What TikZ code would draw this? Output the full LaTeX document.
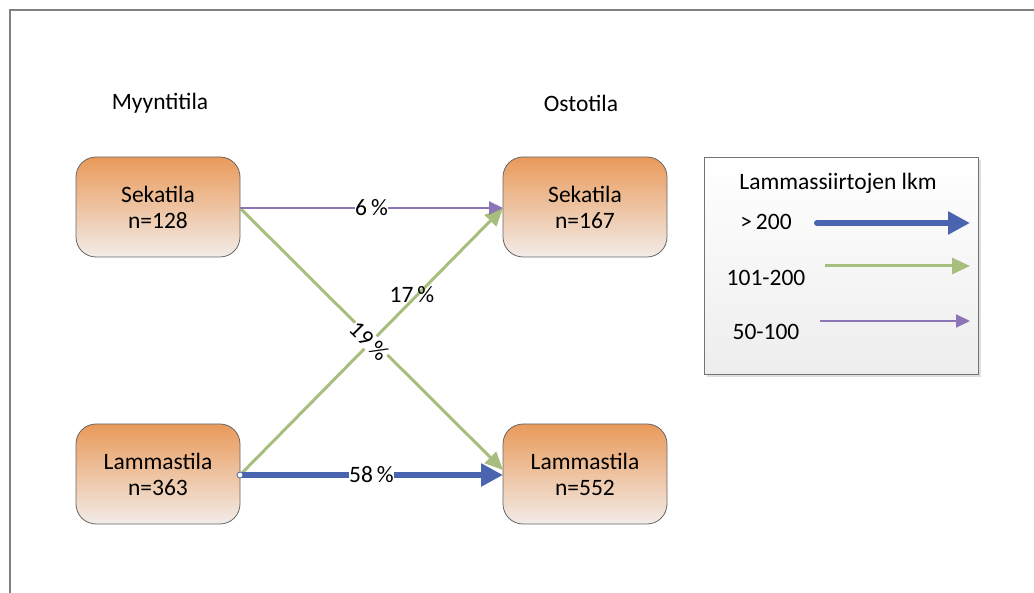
\documentclass[tikz,border=0pt]{standalone}
\usepackage{fontspec}
\setmainfont{Carlito}
\usetikzlibrary{arrows.meta,shadows}
\definecolor{orangetop}{HTML}{E99A5A}
\definecolor{orangebot}{HTML}{F2ECE8}
\definecolor{purp}{HTML}{8C75B4}
\definecolor{grn}{HTML}{A8BE7E}
\definecolor{blu}{HTML}{4A64B0}
\begin{document}
\begin{tikzpicture}[x=1pt,y=-1pt,
  farm/.style={draw=black!60,line width=0.8pt,rounded corners=20pt,minimum width=164pt,minimum height=100pt,
    top color=orangetop,bottom color=orangebot,align=center,font=\fontsize{23.5}{26}\selectfont,inner sep=0pt},
  lbl/.style={font=\fontsize{23.5}{28}\selectfont,inner sep=1pt},
  pct/.style={font=\fontsize{23.5}{28}\selectfont,fill=white,inner sep=0.5pt},
  parr/.style={draw=purp,line width=2pt,-{Triangle[length=14pt,width=13pt]}},
  garr/.style={draw=grn,line width=3pt,-{Triangle[length=18pt,width=16pt]}},
  barr/.style={draw=blu,line width=6pt,-{Triangle[length=22pt,width=22pt]}},
]
\useasboundingbox (0,0) rectangle (1034,593);
\draw[draw=black!50,line width=2pt] (1040,10) -- (10,10) -- (10,600);
\node[lbl] (myy) at (160,103) {Myyntitila};
\node[lbl] (ost) at (581,103) {Ostotila};
\node[farm] (s1) at (158,207) {Sekatila\\n=128};
\node[farm] (s2) at (585,207) {Sekatila\\n=167};
\node[farm] (l1) at (158,474) {Lammastila\\n=363};
\node[farm] (l2) at (585,474) {Lammastila\\n=552};
\coordinate (s1e) at (240,208);
\coordinate (s2w) at (503,208);
\coordinate (l1e) at (240,475);
\coordinate (l2w) at (503,470);
\coordinate (l2wb) at (503,475);
\draw[garr] (s1e) -- (l2w);
\draw[garr] (l1e) -- (s2w);
\draw[barr] (l1e) -- (l2wb) node[pct,pos=0.5] {58\,\%};
\draw[parr] (s1e) -- (s2w) node[pct,pos=0.5] {6\,\%};
\fill[white] (l1e) circle (3pt);
\draw[blu,line width=0.8pt] (l1e) circle (3pt);
\node[lbl] (p17) at (412,295) {17\,\%};
\node[pct,rotate=-45] (p19) at (369,341) {19\,\%};
% legend
\node[draw=black!55,line width=0.8pt,top color=white,bottom color=black!7,minimum width=274pt,minimum height=217pt,
  drop shadow={shadow xshift=3pt,shadow yshift=-3pt,opacity=0.25}] (leg) at (841,266) {};
\node[lbl] (lt) at (838,183) {Lammassiirtojen lkm};
\node[lbl] (l200) at (766,222) {>\,200};
\node[lbl] (l101) at (766,278) {101-200};
\node[lbl] (l50) at (766,332) {50-100};
\coordinate (a1) at (817,223); \coordinate (b1) at (970,223);
\coordinate (a2) at (825,266); \coordinate (b2) at (970,266);
\coordinate (a3) at (820,321); \coordinate (b3) at (970,321);
\draw[barr,line cap=round] (a1) -- (b1);
\draw[garr] (a2) -- (b2);
\draw[parr] (a3) -- (b3);
\end{tikzpicture}
\end{document}
